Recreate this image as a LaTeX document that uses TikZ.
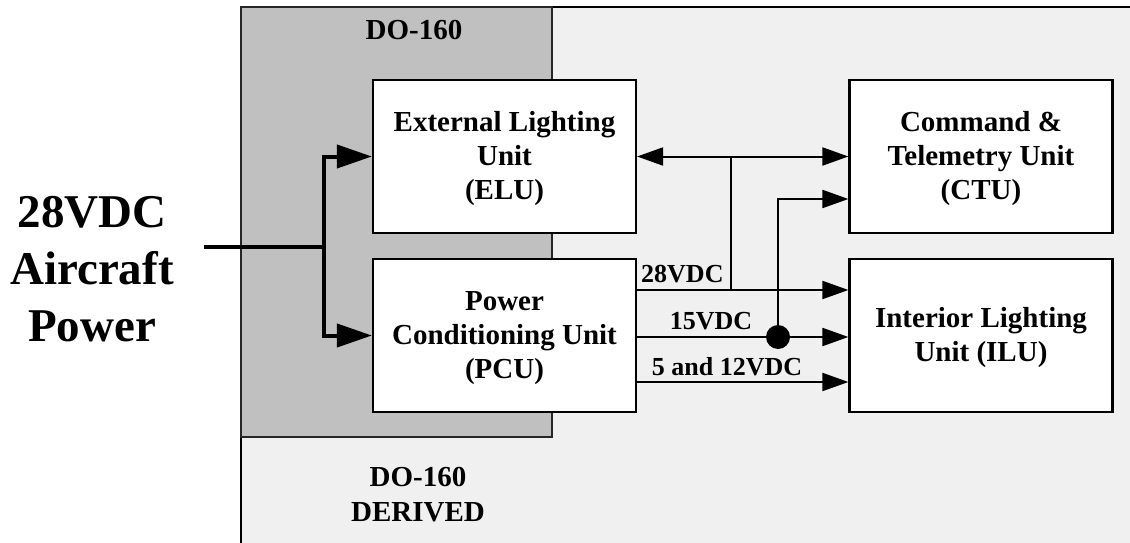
\documentclass[tikz,border=0pt]{standalone}
\usepackage{fontspec}
\setmainfont{Liberation Serif}
\usetikzlibrary{arrows.meta}
\definecolor{lightbg}{HTML}{F0F0F0}
\definecolor{darkbg}{HTML}{C0C0C0}
\newcommand{\mytopstrut}{\rule{0pt}{25pt}}
\newcommand{\mybotstrut}{\rule[-7pt]{0pt}{7pt}}
\tikzset{
  unitbox/.style={draw, line width=2.2pt, fill=white, minimum width=263pt, minimum height=153pt,
    align=center, inner sep=0pt, font=\bfseries\fontsize{29}{34}\selectfont},
  conn/.style={line width=2pt},
  tip/.style={-{Triangle[length=26pt,width=18pt]}},
  tips/.style={{Triangle[length=26pt,width=18pt]}-{Triangle[length=26pt,width=18pt]}},
  feed/.style={line width=4pt, -{Triangle[length=35pt,width=23pt]}},
  lbl/.style={font=\bfseries\fontsize{26}{31}\selectfont, inner sep=0pt},
  regionlbl/.style={font=\bfseries\fontsize{29}{35}\selectfont, align=center, inner sep=0pt},
}
\begin{document}
\begin{tikzpicture}[x=1pt,y=-1pt]
\useasboundingbox (0,0) rectangle (1130,543);
% regions
\fill[lightbg] (241,7) rectangle (1130,543);
\draw[line width=2pt] (241,543) -- (241,7) -- (1130,7);
\filldraw[fill=darkbg, draw=black!85, line width=2pt] (241,7) rectangle (552,437);
\node[regionlbl, anchor=base] (do160) at (414,40) {DO-160};
\node[regionlbl] (derived) at (418,495) {DO-160\\DERIVED};
% source label
\node[font=\bfseries\fontsize{47}{57}\selectfont, align=center, inner sep=0pt] (src) at (92,269) {28VDC\\Aircraft\\Power};
% units
\node[unitbox] (ELU) at (504.5,156.5) {\mytopstrut External Lighting\\Unit\\(ELU)\mybotstrut};
\node[unitbox] (PCU) at (504.5,335.5) {\mytopstrut Power\\Conditioning Unit\\(PCU)\mybotstrut};
\node[unitbox] (CTU) at (981,156.5) {\mytopstrut Command \&\\Telemetry Unit\\(CTU)\mybotstrut};
\node[unitbox] (ILU) at (981,335.5) {\mytopstrut Interior Lighting\\Unit (ILU)\mybotstrut};
% input feed
\coordinate (in) at (204,247);
\coordinate (bus) at (324,247);
\draw[line width=4pt] (in) -- (bus);
\draw[feed] (bus) |- (ELU.west);
\draw[feed] (bus) |- (PCU.west);
% helper coordinates
\coordinate (t1) at (731,156.5);
\coordinate (t2) at (731,290);
\coordinate (c2) at (778,199);
\coordinate (v5) at (0,382);
\node[circle, fill=black, minimum size=24pt, inner sep=0pt] (dot) at (778,337) {};
% connectors
\draw[conn, tips] (ELU.east) -- (CTU.west);
\draw[conn] (t1) -- (t2);
\draw[conn, tip] (PCU.east |- t2) -- (ILU.west |- t2);
\draw[conn, tip] (PCU.east |- dot) -- (ILU.west |- dot);
\draw[conn, tip] (dot.center) -- (c2) -- (CTU.west |- c2);
\draw[conn, tip] (PCU.east |- v5) -- (ILU.west |- v5);
% voltage labels
\node[lbl, anchor=base west] (l28) at (641,282) {28VDC};
\node[lbl, anchor=base] (l15) at (711,329) {15VDC};
\node[lbl, anchor=base] (l5) at (727,375) {5 and 12VDC};
\end{tikzpicture}
\end{document}
